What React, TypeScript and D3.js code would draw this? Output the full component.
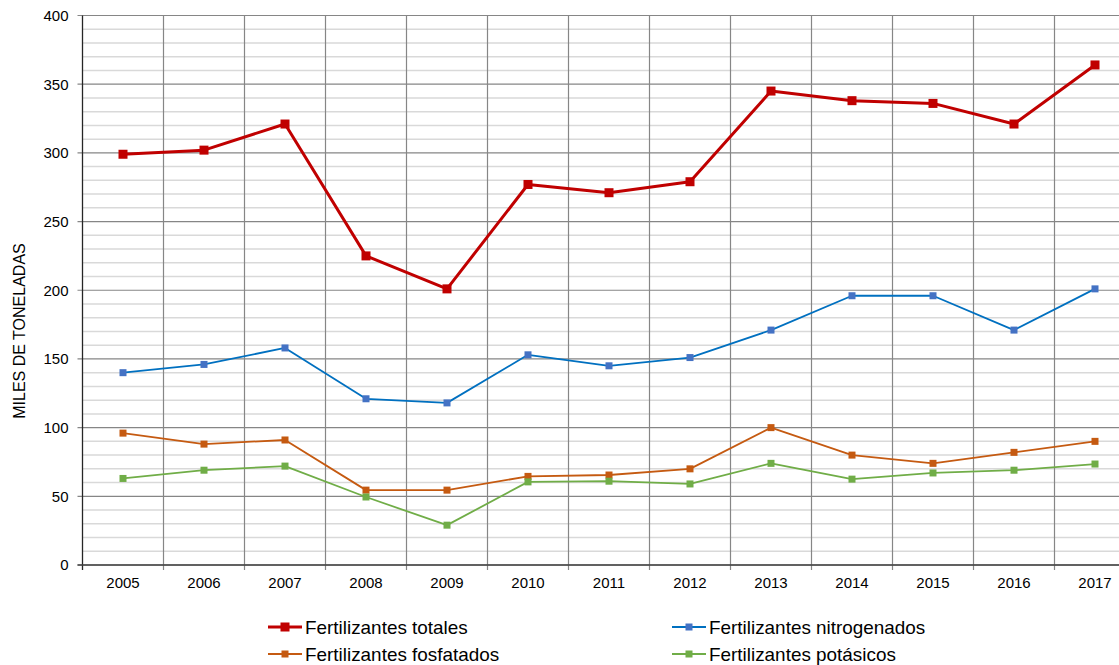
import React from "react";
import * as d3 from "d3";

const years = ["2005", "2006", "2007", "2008", "2009", "2010", "2011", "2012", "2013", "2014", "2015", "2016", "2017"];
const totales = [299, 302, 321, 225, 201, 277, 271, 279, 345, 338, 336, 321, 364];
const nitrogenados = [140, 146, 158, 121, 118, 153, 145, 151, 171, 196, 196, 171, 201];
const fosfatados = [96, 88, 91, 54.5, 54.5, 64.5, 65.5, 70, 100, 80, 74, 82, 90];
const potasicos = [63, 69, 72, 49.5, 29, 60.5, 61, 59, 74, 62.5, 67, 69, 73.5];
const yTicks = [0, 50, 100, 150, 200, 250, 300, 350, 400];

const seriesNames = ["Fertilizantes totales", "Fertilizantes nitrogenados", "Fertilizantes fosfatados", "Fertilizantes potásicos"];

const W = 1119;
const H = 665;
const left = 82.5;
const top = 15.5;
const bottom = 565;
const band = 81;

const series = [
  { name: seriesNames[0], values: totales, line: "#c00000", marker: "#c00000", width: 3, size: 9 },
  { name: seriesNames[1], values: nitrogenados, line: "#0070c0", marker: "#4472c4", width: 1.8, size: 7 },
  { name: seriesNames[2], values: fosfatados, line: "#c55a11", marker: "#c55a11", width: 1.8, size: 7 },
  { name: seriesNames[3], values: potasicos, line: "#70ad47", marker: "#70ad47", width: 1.8, size: 7 },
];

export default function App() {
  const x = d3.scaleBand().domain(years).range([left, left + band * years.length]);
  const y = d3.scaleLinear().domain([0, 400]).range([bottom, top]);
  const minor = d3.range(10, 400, 10).filter((v) => v % 50 !== 0);
  const font = "'Liberation Sans', Arial, sans-serif";
  const line = (vals: number[]) =>
    d3.line<number>().x((_, i) => (x(years[i]) as number) + band / 2).y((v) => y(v))(vals) as string;
  const boundaries = years.map((yr) => x(yr) as number).concat([left + band * years.length]);

  const legend = [
    { s: series[0], lx: 268, ly: 627 },
    { s: series[1], lx: 672, ly: 627 },
    { s: series[2], lx: 268, ly: 654 },
    { s: series[3], lx: 672, ly: 654 },
  ];

  return (
    <div style={{ position: "fixed", left: 0, top: 0, width: W, height: H, overflow: "hidden", background: "#fff" }}>
      <svg width={W} height={H} style={{ display: "block" }} fontFamily={font}>
        {minor.map((v) => (
          <line key={"m" + v} x1={left} x2={W} y1={y(v)} y2={y(v)} stroke="#d9d9d9" strokeWidth={1.5} />
        ))}
        {yTicks.map((v) => (
          <line key={"g" + v} x1={left - 5} x2={W} y1={y(v)} y2={y(v)} stroke="#868686" strokeWidth={1.2} />
        ))}
        {boundaries.slice(1).map((bx, i) => (
          <line key={"v" + i} x1={bx} x2={bx} y1={top} y2={bottom + 5} stroke="#868686" strokeWidth={1.2} />
        ))}
        <line x1={left} x2={left} y1={top} y2={bottom + 5} stroke="#262626" strokeWidth={1.3} />
        <line x1={left - 5} x2={W} y1={bottom} y2={bottom} stroke="#404040" strokeWidth={1.3} />
        {yTicks.map((v) => (
          <text key={"t" + v} x={left - 14} y={y(v)} dy="0.36em" textAnchor="end" fontSize={15} fill="#000">
            {v}
          </text>
        ))}
        {years.map((yr) => (
          <text key={"x" + yr} x={(x(yr) as number) + band / 2} y={bottom + 23} textAnchor="middle" fontSize={15} fill="#000">
            {yr}
          </text>
        ))}
        <text transform={`translate(25,331) rotate(-90)`} textAnchor="middle" fontSize={16} fill="#000">
          MILES DE TONELADAS
        </text>
        {series.map((s) => (
          <g key={s.name}>
            <path d={line(s.values)} fill="none" stroke={s.line} strokeWidth={s.width} strokeLinejoin="round" />
            {s.values.map((v, i) => (
              <rect
                key={i}
                x={(x(years[i]) as number) + band / 2 - s.size / 2}
                y={y(v) - s.size / 2}
                width={s.size}
                height={s.size}
                fill={s.marker}
              />
            ))}
          </g>
        ))}
        {legend.map(({ s, lx, ly }) => (
          <g key={"l" + s.name}>
            <line x1={lx} x2={lx + 34} y1={ly} y2={ly} stroke={s.line} strokeWidth={s.width} />
            <rect x={lx + 17 - s.size / 2} y={ly - s.size / 2} width={s.size} height={s.size} fill={s.marker} />
            <text transform={`translate(${lx + 37},${ly + 7}) scale(1.08,1)`} fontSize={17.5} fill="#000">
              {s.name}
            </text>
          </g>
        ))}
      </svg>
    </div>
  );
}
